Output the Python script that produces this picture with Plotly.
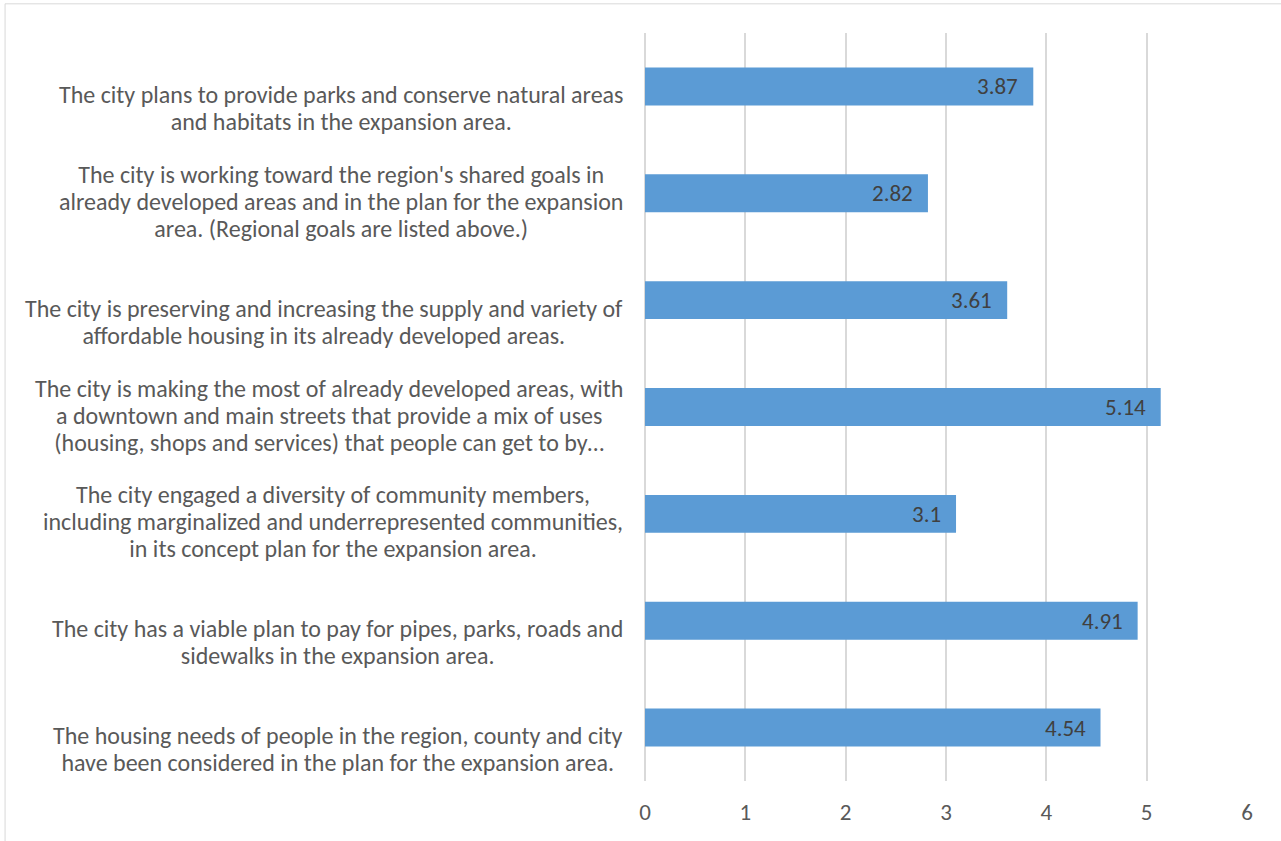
import plotly.graph_objects as go

categories = [
    "The housing needs of people in the region, county and city<br>have been considered in the plan for the expansion area.",
    "The city has a viable plan to pay for pipes, parks, roads and<br>sidewalks in the expansion area.",
    "The city engaged a diversity of community members,<br>including marginalized and underrepresented communities,<br>in its concept plan for the expansion area.",
    "The city is making the most of already developed areas, with<br>a downtown and main streets that provide a mix of uses<br>(housing, shops and services) that people can get to by…",
    "The city is preserving and increasing the supply and variety of<br>affordable housing in its already developed areas.",
    "The city is working toward the region's shared goals in<br>already developed areas and in the plan for the expansion<br>area. (Regional goals are listed above.)",
    "The city plans to provide parks and conserve natural areas<br>and habitats in the expansion area.",
]
values = [4.54, 4.91, 3.1, 5.14, 3.61, 2.82, 3.87]
value_labels = ["4.54", "4.91", "3.1", "5.14", "3.61", "2.82", "3.87"]
x_ticks = [0, 1, 2, 3, 4, 5, 6]

FONT = "Carlito, Lato, sans-serif"
LINE_H = 27
ids = list(range(len(categories)))

fig = go.Figure(
    go.Bar(
        y=ids,
        x=values,
        orientation="h",
        width=0.355,
        marker=dict(color="#5B9BD5", line=dict(width=0)),
        hoverinfo="skip",
    )
)

for i, cat, v, lab in zip(ids, categories, values, value_labels):
    lines = cat.split("<br>")
    txt = "<br>".join(f"<span style='font-size:24px'>{ln}</span>" for ln in lines)
    # Excel bottom-aligns the wrapped category labels
    shift = 35 - (len(lines) - 1) * LINE_H / 2
    fig.add_annotation(
        x=-0.034, xref="paper", y=i, yref="y",
        text=txt, showarrow=False, xanchor="right", yanchor="middle",
        align="center", yshift=-shift,
        font=dict(family=FONT, size=20.8, color="#595959"),
    )
    fig.add_annotation(
        x=v, xref="x", y=i, yref="y",
        text=lab, showarrow=False, xanchor="right", yanchor="middle",
        xshift=-13,
        font=dict(family=FONT, size=23, color="#404040"),
    )

fig.add_shape(
    type="rect", xref="paper", yref="paper",
    x0=-1.063, x1=1.2, y0=-0.2, y1=1.039,
    line=dict(color="#D9D9D9", width=1), layer="below",
)

fig.update_layout(
    width=1281, height=841,
    margin=dict(l=645, r=34, t=33, b=60),
    paper_bgcolor="white", plot_bgcolor="white",
    showlegend=False,
    bargap=0.645,
    font=dict(family=FONT),
    xaxis=dict(
        range=[0, 6], tickvals=x_ticks, ticktext=[str(t) for t in x_ticks],
        showgrid=True, gridcolor="#D9D9D9", gridwidth=1.5,
        zeroline=True, zerolinecolor="#D9D9D9", zerolinewidth=1.5,
        showline=False, ticks="", ticklabelstandoff=15,
        tickfont=dict(family=FONT, size=23, color="#595959"),
        fixedrange=True,
    ),
    yaxis=dict(
        range=[-0.5, len(categories) - 0.5],
        showticklabels=False, showgrid=False, zeroline=False, ticks="",
        fixedrange=True,
    ),
)

fig.write_html(
    "out.html",
    config={"displayModeBar": False},
    post_script="document.body.style.margin='0';",
)
